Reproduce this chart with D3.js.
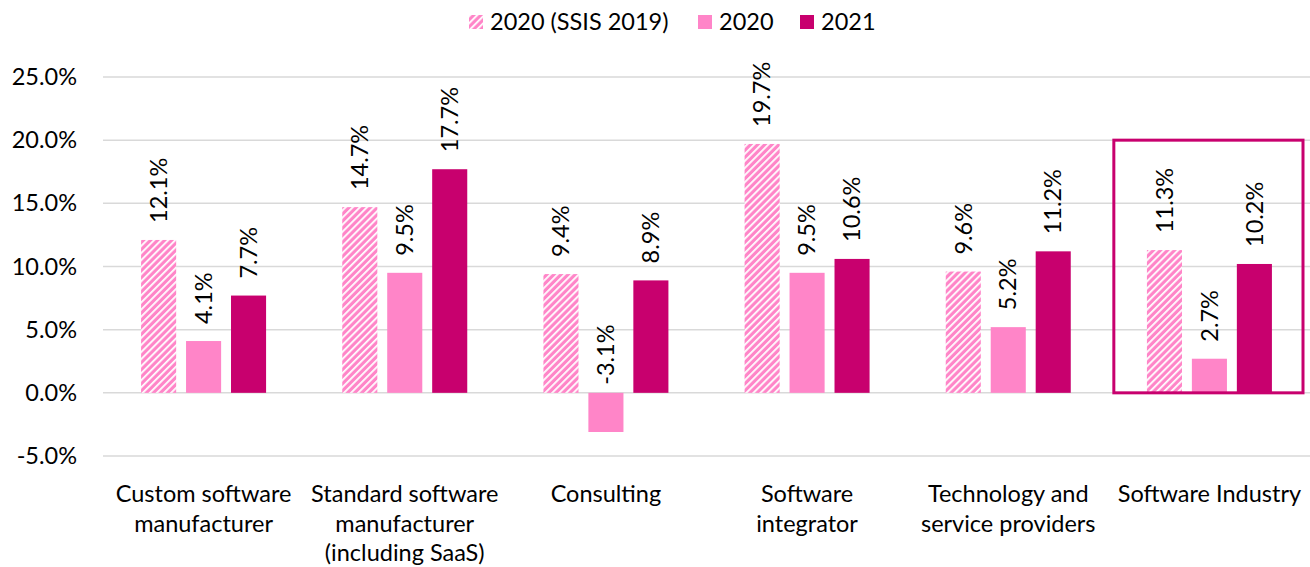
<!DOCTYPE html>
<html>
<head>
<meta charset="utf-8">
<script src="https://cdn.jsdelivr.net/npm/d3@7"></script>
<style>
  body { margin: 0; background: #fff; }
  svg { display: block; font-family: Lato, "Open Sans", sans-serif; }
</style>
</head>
<body>
<div id="chart"></div>
<script>
// chart values
const categories = [
  "Custom software|manufacturer",
  "Standard software|manufacturer|(including SaaS)",
  "Consulting",
  "Software|integrator",
  "Technology and|service providers",
  "Software Industry"
];
const seriesNames = ["2020 (SSIS 2019)", "2020", "2021"];
const ssis2019 = [12.1, 14.7, 9.4, 19.7, 9.6, 11.3];
const y2020 = [4.1, 9.5, -3.1, 9.5, 5.2, 2.7];
const y2021 = [7.7, 17.7, 8.9, 10.6, 11.2, 10.2];
const yTicks = [-5, 0, 5, 10, 15, 20, 25];

const seriesValues = [ssis2019, y2020, y2021];
const pink = "#FF85C8";
const magenta = "#C8006E";
const fontSize = 23.5;

const width = 1310, height = 567;
const margin = { top: 77, right: 0, bottom: 111, left: 103 };

const svg = d3.select("#chart").append("svg")
  .attr("width", width)
  .attr("height", height);

// hatch pattern for the 2019 survey series
const defs = svg.append("defs");
const pat = defs.append("pattern")
  .attr("id", "hatch")
  .attr("patternUnits", "userSpaceOnUse")
  .attr("width", 5)
  .attr("height", 5)
  .attr("patternTransform", "rotate(45)");
pat.append("rect").attr("width", 5).attr("height", 5).attr("fill", pink);
pat.append("rect").attr("x", 0).attr("width", 1.8).attr("height", 5).attr("fill", "#fff");

const fills = ["url(#hatch)", pink, magenta];

const x = d3.scaleBand()
  .domain(categories)
  .range([margin.left, width - margin.right]);

const groupW = 125;
const x1 = d3.scaleBand()
  .domain(seriesNames)
  .range([(x.bandwidth() - groupW) / 2, (x.bandwidth() + groupW) / 2])
  .paddingInner(0.22);

const y = d3.scaleLinear()
  .domain([-5, 25])
  .range([456, margin.top]);

// gridlines
svg.append("g")
  .selectAll("line")
  .data(yTicks)
  .join("line")
  .attr("x1", margin.left)
  .attr("x2", width)
  .attr("y1", d => y(d))
  .attr("y2", d => y(d))
  .attr("stroke", "#d9d9d9")
  .attr("stroke-width", 1.5);

// y axis labels
const yAxis = d3.axisLeft(y)
  .tickValues(yTicks)
  .tickFormat(d => d.toFixed(1) + "%")
  .tickSize(0)
  .tickPadding(26);
svg.append("g")
  .attr("transform", `translate(${margin.left},0)`)
  .call(yAxis)
  .call(g => g.select(".domain").remove())
  .selectAll("text")
  .attr("font-family", "Lato, 'Open Sans', sans-serif")
  .attr("font-size", fontSize)
  .attr("fill", "#000");

// bars
const groups = svg.append("g")
  .selectAll("g")
  .data(categories)
  .join("g")
  .attr("transform", d => `translate(${x(d)},0)`);

groups.each(function(cat, ci) {
  const g = d3.select(this);
  seriesNames.forEach((s, si) => {
    const v = seriesValues[si][ci];
    g.append("rect")
      .attr("x", x1(s))
      .attr("y", y(Math.max(0, v)))
      .attr("width", x1.bandwidth())
      .attr("height", Math.abs(y(v) - y(0)))
      .attr("fill", fills[si]);
    const ly = y(Math.max(0, v)) - (v < 0 ? 8 : 17);
    g.append("text")
      .attr("transform", `translate(${x1(s) + x1.bandwidth() / 2},${ly}) rotate(-90)`)
      .attr("dy", "0.35em")
      .attr("font-size", fontSize)
      .attr("text-anchor", "start")
      .attr("fill", "#000")
      .text(v.toFixed(1) + "%");
  });
});

// category labels
svg.append("g")
  .selectAll("text")
  .data(categories)
  .join("text")
  .attr("x", d => x(d) + x.bandwidth() / 2)
  .attr("y", 502)
  .attr("text-anchor", "middle")
  .attr("font-size", fontSize)
  .attr("fill", "#000")
  .each(function(d) {
    d.split("|").forEach((line, i) => {
      d3.select(this).append("tspan")
        .attr("x", x(d) + x.bandwidth() / 2)
        .attr("dy", i === 0 ? 0 : 29.5)
        .text(line);
    });
  });

// highlight box around the total
const last = categories[categories.length - 1];
svg.append("rect")
  .attr("x", x(last) + 5)
  .attr("y", y(20))
  .attr("width", x.bandwidth() - 12)
  .attr("height", y(0) - y(20))
  .attr("fill", "none")
  .attr("stroke", magenta)
  .attr("stroke-width", 3);

// legend
const legend = svg.append("g").attr("transform", "translate(469,15)");
const legX = [0, 229, 331];
seriesNames.forEach((s, i) => {
  const lg = legend.append("g").attr("transform", `translate(${legX[i]},0)`);
  lg.append("rect").attr("width", 14).attr("height", 14).attr("fill", fills[i]);
  lg.append("text")
    .attr("x", 21)
    .attr("y", 7)
    .attr("dy", "0.35em")
    .attr("font-size", fontSize)
    .attr("fill", "#000")
    .text(s);
});
</script>
</body>
</html>
